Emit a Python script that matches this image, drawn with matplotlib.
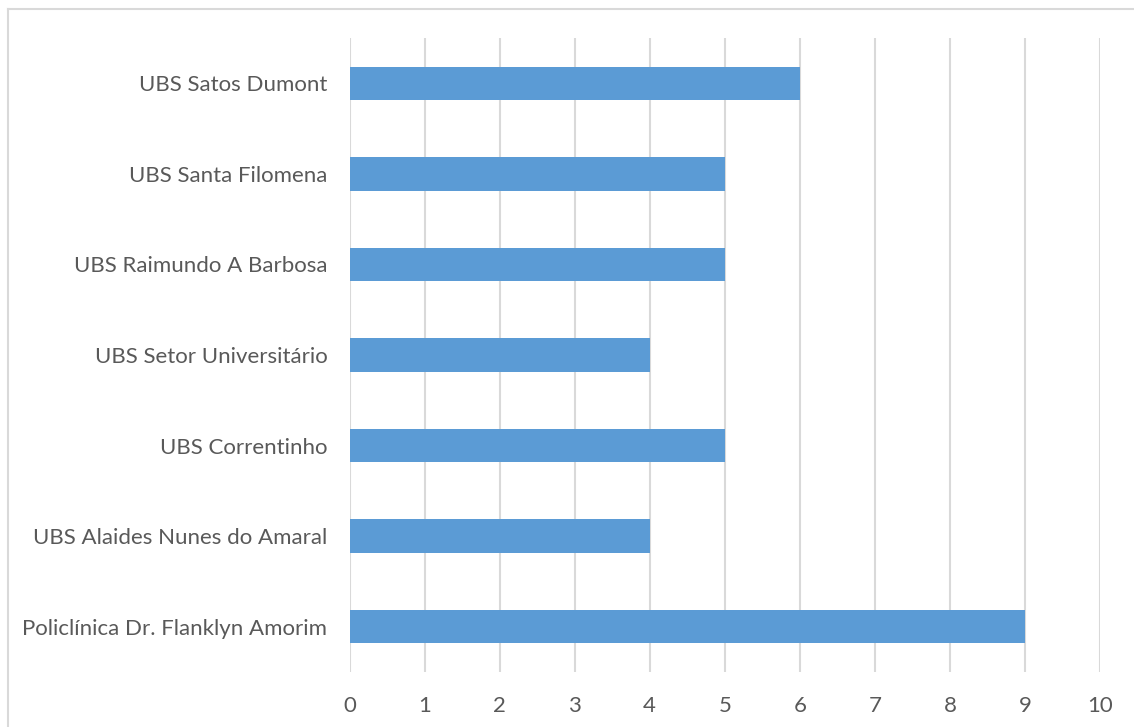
import matplotlib.pyplot as plt
from matplotlib.lines import Line2D

# data, bottom to top as drawn
units = ['Policlínica Dr. Flanklyn Amorim', 'UBS Alaides Nunes do Amaral',
         'UBS Correntinho', 'UBS Setor Universitário', 'UBS Raimundo A Barbosa',
         'UBS Santa Filomena', 'UBS Satos Dumont']
counts = [9, 4, 5, 4, 5, 5, 6]
xticks = list(range(0, 11))

plt.rcParams['font.family'] = ['Lato', 'DejaVu Sans']
txtcol = '#595959'
gridcol = '#D9D9D9'

W, H = 1134, 727
fig = plt.figure(figsize=(W/100, H/100), dpi=100)
ax = fig.add_axes([349.5/W, 1-672/H, (1100-349.5)/W, (672-38)/H])

ax.barh(range(len(units)), counts, height=0.37, color='#5B9BD5', zorder=3)
ax.set_ylim(-0.5, len(units)-0.5)
ax.set_xlim(0, 10)
ax.set_xticks(xticks)
ax.set_yticks(range(len(units)))
ax.set_yticklabels(units)
ax.tick_params(axis='both', length=0, colors=txtcol, labelsize=16)
ax.tick_params(axis='y', pad=16)
ax.tick_params(axis='x', pad=17)
ax.xaxis.grid(True, color=gridcol, linewidth=1.5, zorder=0)
for s in ax.spines.values():
    s.set_visible(False)

# chart frame (only top and left edges are visible in the crop)
fig.add_artist(Line2D([7.5/W, 7.5/W], [0, 1-8.5/H], transform=fig.transFigure, color=gridcol, lw=1.5))
fig.add_artist(Line2D([7.5/W, 1], [1-8.5/H, 1-8.5/H], transform=fig.transFigure, color=gridcol, lw=1.5))

plt.savefig('out.png', dpi=100)
